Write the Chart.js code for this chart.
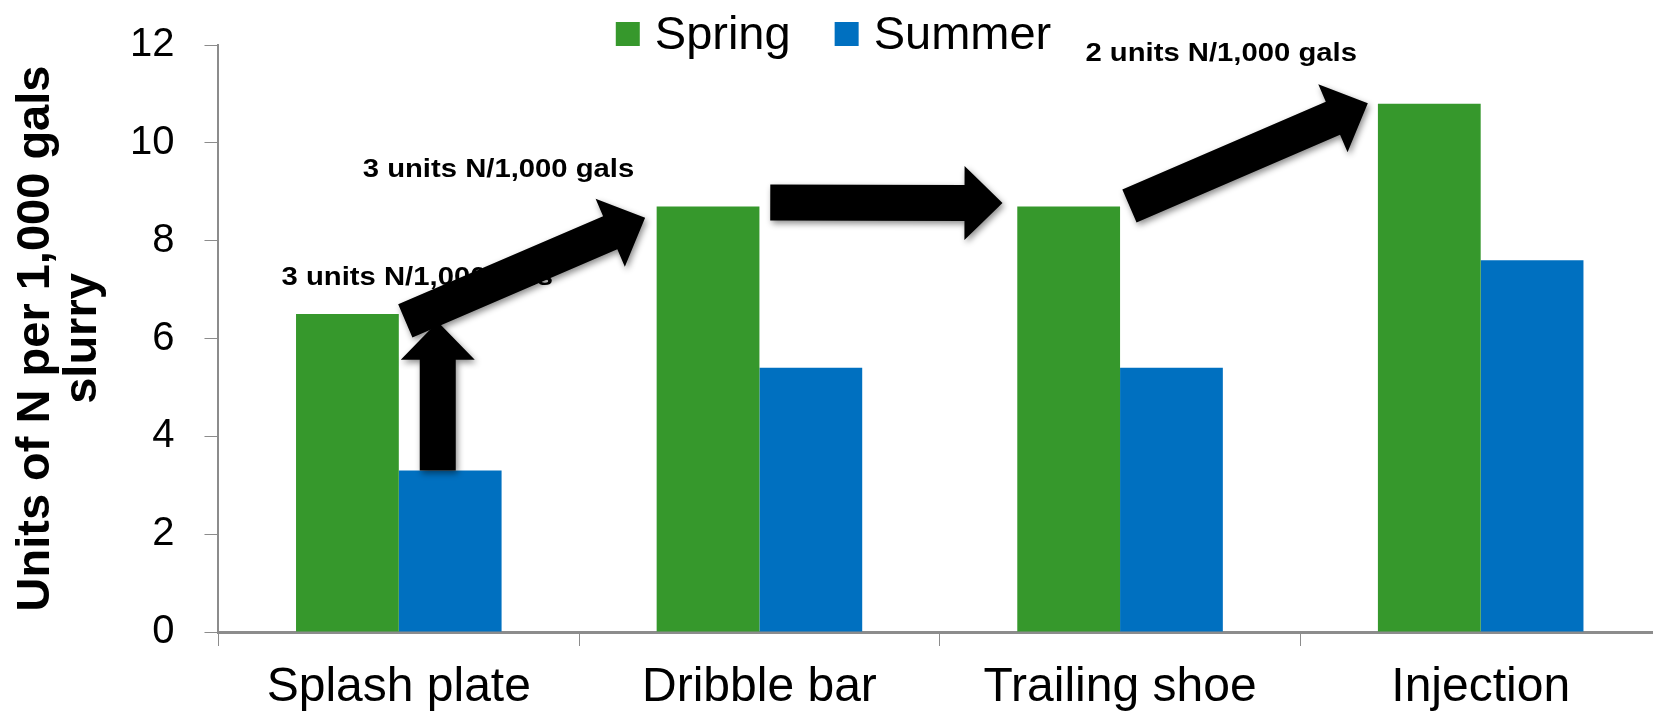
<!DOCTYPE html>
<html>
<head>
<meta charset="utf-8">
<script src="https://cdn.jsdelivr.net/npm/chart.js@4"></script>
<style>
  html, body { margin: 0; padding: 0; background: #fff; overflow: hidden; }
  #wrap { width: 1661px; height: 712px; position: relative; }
</style>
</head>
<body>
<div id="wrap"><canvas id="nChart"></canvas></div>
<script>
// --- Data ---
const categories = ['Splash plate', 'Dribble bar', 'Trailing shoe', 'Injection'];
const seriesNames = ['Spring', 'Summer'];
const springN = [6.5, 8.7, 8.7, 10.8];
const summerN = [3.3, 5.4, 5.4, 7.6];
const yMin = 0, yMax = 12, yStep = 2;

// annotations, in data units: [category index, value]
const arrows = [
    { from: [0.108, 3.3], to: [0.108, 6.34] },
    { from: [0.018, 6.36], to: [0.683, 8.47] },
    { from: [1.03, 8.78], to: [1.674, 8.77] },
    { from: [2.026, 8.71], to: [2.687, 10.81] }
];
const notes = [
    { text: '3 units N/1,000 gals', at: [-0.325, 7.24] },
    { text: '3 units N/1,000 gals', at: [-0.1, 9.44] },
    { text: '2 units N/1,000 gals', at: [1.904, 11.82] }
];

const fam = '"Liberation Sans", Arial, sans-serif';
Chart.defaults.font.family = fam;
Chart.defaults.color = '#000';

// --- Arrows + notes ---
function drawArrow(ctx, x1, y1, x2, y2) {
    const shaft = 36, headW = 74, headL = 38;
    const ang = Math.atan2(y2 - y1, x2 - x1);
    const len = Math.hypot(x2 - x1, y2 - y1);
    ctx.save();
    ctx.translate(x1, y1); ctx.rotate(ang);
    ctx.beginPath();
    ctx.moveTo(0, -shaft / 2);
    ctx.lineTo(len - headL, -shaft / 2);
    ctx.lineTo(len - headL, -headW / 2);
    ctx.lineTo(len, 0);
    ctx.lineTo(len - headL, headW / 2);
    ctx.lineTo(len - headL, shaft / 2);
    ctx.lineTo(0, shaft / 2);
    ctx.closePath();
    ctx.shadowColor = 'rgba(0,0,0,0.45)'; ctx.shadowBlur = 6;
    ctx.shadowOffsetX = 2; ctx.shadowOffsetY = 3;
    ctx.fillStyle = '#000'; ctx.fill();
    ctx.restore();
}

const annotPlugin = {
    id: 'annot',
    afterDatasetsDraw(chart) {
        const ctx = chart.ctx, xs = chart.scales.x, ys = chart.scales.y;
        notes.forEach(n => {
            ctx.save();
            ctx.font = 'bold 25px ' + fam;
            ctx.textBaseline = 'middle'; ctx.textAlign = 'left';
            ctx.translate(xs.getPixelForValue(n.at[0]), ys.getPixelForValue(n.at[1]));
            ctx.scale(1.17, 1);
            ctx.fillStyle = '#000';
            ctx.fillText(n.text, 0, 0);
            ctx.restore();
        });
        arrows.forEach(a => drawArrow(ctx,
            xs.getPixelForValue(a.from[0]), ys.getPixelForValue(a.from[1]),
            xs.getPixelForValue(a.to[0]), ys.getPixelForValue(a.to[1])));
    }
};

// --- Legend ---
const legendPlugin = {
    id: 'topLegend',
    afterDraw(chart) {
        const ctx = chart.ctx, sets = chart.data.datasets;
        const box = 24, gapBox = 15, gapItem = 44, cy = 34;
        ctx.save();
        ctx.font = '47px ' + fam;
        const widths = sets.map(d => ctx.measureText(d.label).width);
        let total = widths.reduce((s, w) => s + box + gapBox + w, 0) + gapItem * (sets.length - 1);
        let x = chart.width / 2 - total / 2 + 3;
        sets.forEach((d, i) => {
            ctx.fillStyle = d.backgroundColor;
            ctx.fillRect(x, cy - box / 2, box, box);
            x += box + gapBox;
            ctx.fillStyle = '#000'; ctx.textBaseline = 'middle'; ctx.textAlign = 'left';
            ctx.fillText(d.label, x, cy + 2);
            x += widths[i] + gapItem;
        });
        ctx.restore();
    }
};

// --- Chart ---
new Chart(document.getElementById('nChart'), {
    type: 'bar',
    data: {
        labels: categories,
        datasets: [
            { label: seriesNames[0], data: springN, backgroundColor: '#36982c' },
            { label: seriesNames[1], data: summerN, backgroundColor: '#0070c0' }
        ]
    },
    options: {
        responsive: true, maintainAspectRatio: false, animation: false,
        layout: { padding: { top: 45, right: 0, left: 0, bottom: -18 } },
        datasets: { bar: { categoryPercentage: 0.57, barPercentage: 1 } },
        plugins: { legend: { display: false }, tooltip: { enabled: false } },
        scales: {
            x: {
                grid: { offset: true, drawOnChartArea: false, tickLength: 14, color: '#8c8c8c' },
                border: { color: '#8c8c8c', width: 3 },
                ticks: { font: { size: 48, lineHeight: 0.5 }, color: '#000', padding: 30, maxRotation: 0 }
            },
            y: {
                min: yMin, max: yMax,
                ticks: { stepSize: yStep, font: { size: 40, lineHeight: 0.6 }, color: '#000', padding: 30 },
                grid: { drawOnChartArea: false, tickLength: 14, color: '#8c8c8c' },
                border: { color: '#8c8c8c', width: 2 },
                title: {
                    display: true, text: ['Units of N per 1,000 gals', 'slurry'], color: '#000',
                    font: { size: 47, weight: 'bold', lineHeight: 1.0 },
                    padding: { top: 13, bottom: -7 }
                }
            }
        }
    },
    plugins: [annotPlugin, legendPlugin]
});
</script>
</body>
</html>
